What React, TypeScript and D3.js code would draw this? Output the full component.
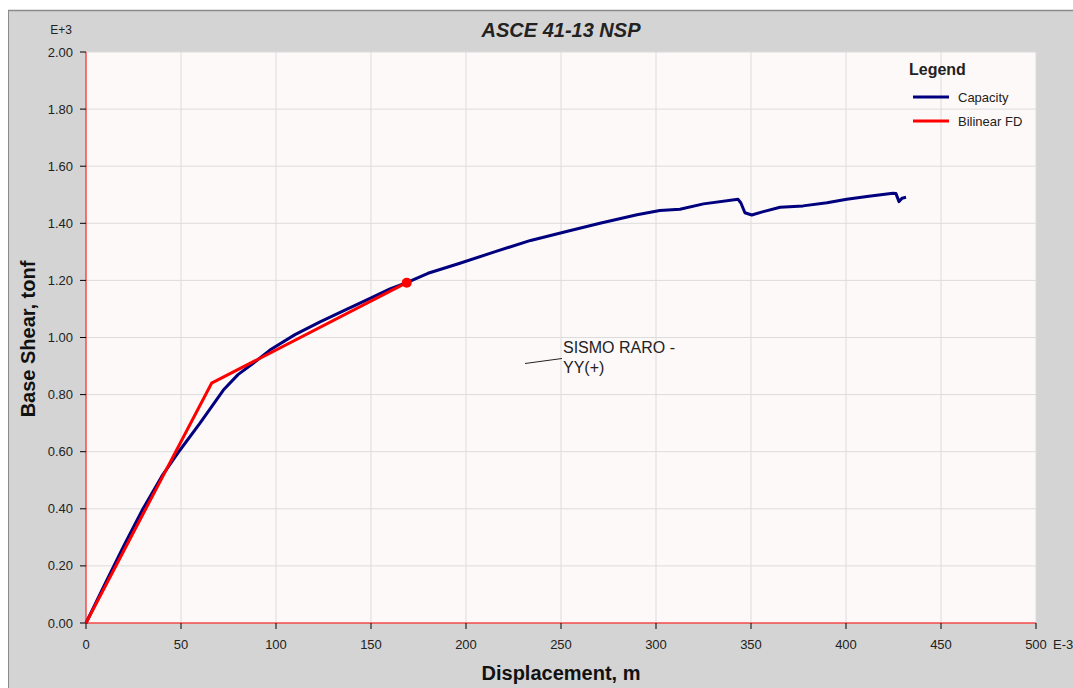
import React from "react";
import * as d3 from "d3";

const capacityDisp = [0, 10, 20, 30, 40, 49.5, 60, 72.3, 80, 88, 96.8, 110, 123.2, 136, 149.5, 160, 168.8, 180, 196.8, 215, 234, 255, 270.5, 290, 302, 312.6, 325, 343.2, 344.7, 346.8, 350.4, 356, 365.3, 377.4, 390, 400.4, 412, 424.7, 426.3, 427.9, 429.5, 431.6];
const capacityShear = [0, 0.137, 0.272, 0.4, 0.515, 0.606, 0.7, 0.816, 0.87, 0.91, 0.956, 1.01, 1.055, 1.095, 1.137, 1.17, 1.192, 1.225, 1.26, 1.3, 1.34, 1.375, 1.4, 1.43, 1.445, 1.449, 1.468, 1.484, 1.471, 1.437, 1.429, 1.44, 1.456, 1.461, 1.472, 1.484, 1.495, 1.505, 1.504, 1.476, 1.488, 1.491];

const bilinearDisp = [0, 66.1, 168.8];
const bilinearShear = [0, 0.84, 1.192];
const perfPoint = [168.8, 1.192];

const xTicks = [0, 50, 100, 150, 200, 250, 300, 350, 400, 450, 500];
const yTicks = [0, 0.2, 0.4, 0.6, 0.8, 1.0, 1.2, 1.4, 1.6, 1.8, 2.0];

const legendLabels = ["Capacity", "Bilinear FD"];
const legendColors = ["#00007f", "#ff0000"];

export default function App() {
  const W = 1073, H = 688;
  const left = 86, right = 1036, top = 52, bottom = 623;
  const x = d3.scaleLinear().domain([0, 500]).range([left, right]);
  const y = d3.scaleLinear().domain([0, 2]).range([bottom, top]);
  const line = d3.line<[number, number]>().x(d => x(d[0])).y(d => y(d[1]));
  const capPts = capacityDisp.map((d, i) => [d, capacityShear[i]] as [number, number]);
  const biPts = bilinearDisp.map((d, i) => [d, bilinearShear[i]] as [number, number]);
  const font = "Arial, 'Liberation Sans', sans-serif";
  return (
    <svg width={W} height={H} style={{ position: "absolute", left: 0, top: 0 }} fontFamily={font}>
      <rect x={0} y={0} width={W} height={H} fill="#ffffff" />
      <rect x={8} y={10} width={W - 8} height={H - 10} fill="#d4d4d4" />
      <line x1={8} y1={10.5} x2={W} y2={10.5} stroke="#8a8a8a" strokeWidth={1.5} />
      <line x1={8.5} y1={10} x2={8.5} y2={H} stroke="#8a8a8a" strokeWidth={1} />
      <rect x={left} y={top} width={right - left} height={bottom - top} fill="#fdf9f8" />
      {xTicks.map(t => (
        <line key={"gx" + t} x1={x(t)} x2={x(t)} y1={top} y2={bottom} stroke="#dcdcdc" strokeWidth={1} />
      ))}
      {yTicks.map(t => (
        <line key={"gy" + t} x1={left} x2={right} y1={y(t)} y2={y(t)} stroke="#dcdcdc" strokeWidth={1} />
      ))}
      <line x1={left} x2={left} y1={top} y2={bottom} stroke="#ff0000" strokeWidth={1} />
      <line x1={left} x2={right} y1={bottom} y2={bottom} stroke="#ff0000" strokeWidth={1} />
      {yTicks.map(t => (
        <g key={"ty" + t}>
          <line x1={left - 6} x2={left} y1={y(t)} y2={y(t)} stroke="#000" strokeWidth={1} />
          <text x={73} y={y(t)} dy="0.35em" textAnchor="end" fontSize={13} fill="#222">{t.toFixed(2)}</text>
        </g>
      ))}
      {xTicks.map(t => (
        <g key={"tx" + t}>
          <line x1={x(t)} x2={x(t)} y1={bottom} y2={bottom + 6} stroke="#000" strokeWidth={1} />
          <text x={x(t)} y={649} textAnchor="middle" fontSize={13} fill="#222">{t}</text>
        </g>
      ))}
      <text x={61} y={34} textAnchor="middle" fontSize={12} fill="#222">E+3</text>
      <text x={1053} y={649} fontSize={13} fill="#222">E-3</text>
      <text x={561} y={37} textAnchor="middle" fontSize={20} fontWeight="bold" fontStyle="italic" fill="#222">ASCE 41-13 NSP</text>
      <text x={561} y={680} textAnchor="middle" fontSize={20} fontWeight="bold" fill="#111">Displacement, m</text>
      <text transform={`translate(35,339) rotate(-90)`} textAnchor="middle" fontSize={20} fontWeight="bold" fill="#111">Base Shear, tonf</text>
      <path d={line(capPts) || ""} fill="none" stroke="#00007f" strokeWidth={3} strokeLinejoin="round" />
      <path d={line(biPts) || ""} fill="none" stroke="#ff0000" strokeWidth={3} strokeLinejoin="round" />
      <circle cx={x(perfPoint[0])} cy={y(perfPoint[1])} r={5} fill="#ff0000" />
      <line x1={525} y1={363.5} x2={562} y2={358.5} stroke="#222" strokeWidth={1} />
      <text x={563} y={353} fontSize={16} fill="#222">SISMO RARO -</text>
      <text x={563} y={373} fontSize={16} fill="#222">YY(+)</text>
      <text x={909} y={75} fontSize={16} fontWeight="bold" fill="#222">Legend</text>
      {legendLabels.map((l, i) => (
        <g key={l}>
          <line x1={913} x2={949} y1={97 + i * 24} y2={97 + i * 24} stroke={legendColors[i]} strokeWidth={3} />
          <text x={958} y={97 + i * 24} dy="0.35em" fontSize={13} fill="#222">{l}</text>
        </g>
      ))}
    </svg>
  );
}
